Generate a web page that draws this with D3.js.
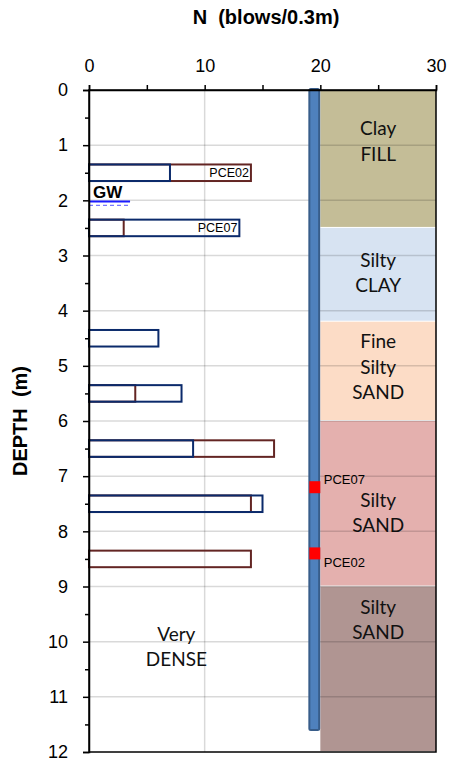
<!DOCTYPE html>
<html>
<head>
<meta charset="utf-8">
<script src="https://cdn.jsdelivr.net/npm/d3@7"></script>
<style>
  body { margin: 0; background: #fff; }
  text { font-family: Arial, "Liberation Sans", sans-serif; }
  .soil-label { font-family: Lato, "Open Sans", sans-serif; font-size: 19px; fill: #111; }
</style>
</head>
<body>
<div id="chart"></div>
<script>
// SPT values per test depth
var depths = [1.5, 2.5, 4.5, 5.5, 6.5, 7.5, 8.5];
var nBlue = [7, 13, 6, 8, 9, 15, null];
var nRed = [14, 3, null, 4, 16, 14, 14];

// bar tags
var barTags = [{depth: 1.5, value: 14, text: "PCE02"}, {depth: 2.5, value: 13, text: "PCE07"}];

// soil log
var soilTop = [0, 2.5, 4.2, 6, 9];
var soilBottom = [2.5, 4.2, 6, 9, 12];
var soilNames = [["Clay", "FILL"], ["Silty", "CLAY"], ["Fine", "Silty", "SAND"], ["Silty", "SAND"], ["Silty", "SAND"]];
var soilLabelDepth = [0.69, 3.08, 4.55, 7.43, 9.37];

// piezometer
var pipeBottom = 11.6;
var screens = [{depth: 7.2, text: "PCE07", labelDepth: 7.05}, {depth: 8.4, text: "PCE02", labelDepth: 8.55}];

var xTicks = [0, 10, 20, 30];
var yTicks = d3.range(0, 13);

var soilColors = ["#c4bd97", "#d7e3f2", "#fcdcc6", "#e4b0ae", "#b09592"];

var width = 449, height = 764;
var margin = {top: 90, right: 13, bottom: 12, left: 89};
var w = width - margin.left - margin.right;
var h = height - margin.top - margin.bottom;

var svg = d3.select("#chart").append("svg")
        .attr("width", width)
        .attr("height", height);

var x = d3.scaleLinear().domain([0, 30]).range([0, w]);
var y = d3.scaleLinear().domain([0, 12]).range([0, h]);

var g = svg.append("g")
        .attr("transform", "translate(" + margin.left + "," + margin.top + ")");

// soil column
var soil = g.selectAll(".soil")
        .data(soilTop)
        .enter().append("g");
soil.append("rect")
        .attr("x", x(20))
        .attr("y", function (d) { return y(d); })
        .attr("width", x(30) - x(20))
        .attr("height", function (d, i) { return y(soilBottom[i]) - y(d) - 1; })
        .attr("fill", function (d, i) { return soilColors[i]; });

// grid
g.selectAll(".hgrid")
        .data(yTicks.slice(1, -1))
        .enter().append("line")
        .attr("x1", 0).attr("x2", w)
        .attr("y1", function (d) { return y(d); })
        .attr("y2", function (d) { return y(d); })
        .attr("stroke", "rgba(0,0,0,0.15)")
        .attr("stroke-width", 1.5);
g.selectAll(".vgrid")
        .data([10])
        .enter().append("line")
        .attr("x1", function (d) { return x(d); })
        .attr("x2", function (d) { return x(d); })
        .attr("y1", 0).attr("y2", h)
        .attr("stroke", "rgba(0,0,0,0.15)")
        .attr("stroke-width", 1.5);

// soil labels
var lineGap = 25.5;
soil.each(function (d, i) {
    var names = soilNames[i];
    var t = d3.select(this).append("text")
            .attr("class", "soil-label")
            .attr("text-anchor", "middle");
    names.forEach(function (n, k) {
        t.append("tspan")
                .attr("x", x(25))
                .attr("y", y(soilLabelDepth[i]) + k * lineGap + 7)
                .text(n);
    });
});

// SPT bars (red under, blue over)
var barH = 0.3;
g.selectAll(".bar-red")
        .data(depths.filter(function (d, i) { return nRed[i] != null; }))
        .enter().append("rect")
        .attr("x", x(0))
        .attr("y", function (d) { return y(d - barH / 2); })
        .attr("width", function (d) { return x(nRed[depths.indexOf(d)]) - x(0); })
        .attr("height", y(barH) - y(0))
        .attr("fill", "none")
        .attr("stroke", "#632523")
        .attr("stroke-width", 2);
g.selectAll(".bar-blue")
        .data(depths.filter(function (d, i) { return nBlue[i] != null; }))
        .enter().append("rect")
        .attr("x", x(0))
        .attr("y", function (d) { return y(d - barH / 2); })
        .attr("width", function (d) { return x(nBlue[depths.indexOf(d)]) - x(0); })
        .attr("height", y(barH) - y(0))
        .attr("fill", "none")
        .attr("stroke", "#0b2a6b")
        .attr("stroke-width", 2);

g.selectAll(".bar-tag")
        .data(barTags)
        .enter().append("text")
        .attr("x", function (d) { return x(d.value) - 2; })
        .attr("y", function (d) { return y(d.depth) + 4.5; })
        .attr("text-anchor", "end")
        .style("font-size", "12.5px")
        .text(function (d) { return d.text; });

// ground water
g.append("text")
        .attr("x", x(0.35))
        .attr("y", y(1.96))
        .style("font-size", "17px")
        .style("font-weight", "bold")
        .text("GW");
g.append("line")
        .attr("x1", x(0)).attr("x2", x(3.55))
        .attr("y1", y(2.02)).attr("y2", y(2.02))
        .attr("stroke", "#1a1aff").attr("stroke-width", 2);
g.append("line")
        .attr("x1", x(0)).attr("x2", x(3.55))
        .attr("y1", y(2.09)).attr("y2", y(2.09))
        .attr("stroke", "#5555ff").attr("stroke-width", 1)
        .attr("stroke-dasharray", "4,3");

// Very DENSE
g.append("text")
        .attr("class", "soil-label")
        .attr("text-anchor", "middle")
        .selectAll("tspan")
        .data(["Very", "DENSE"])
        .enter().append("tspan")
        .attr("x", x(7.55))
        .attr("y", function (d, i) { return y(9.86) + i * lineGap + 7; })
        .text(function (d) { return d; });

// piezometer pipe
g.append("rect")
        .attr("x", x(19.05))
        .attr("y", y(0) - 1)
        .attr("width", x(19.9) - x(19.05))
        .attr("height", y(pipeBottom) - y(0) + 1)
        .attr("rx", 1.5)
        .attr("fill", "#4f81bd")
        .attr("stroke", "#385d8a")
        .attr("stroke-width", 2);

g.selectAll(".screen")
        .data(screens)
        .enter().append("rect")
        .attr("x", x(19.05))
        .attr("y", function (d) { return y(d.depth) - 6; })
        .attr("width", x(20) - x(19.05))
        .attr("height", 12)
        .attr("fill", "#ff0000");

g.selectAll(".screen-label")
        .data(screens)
        .enter().append("text")
        .attr("x", x(20.3))
        .attr("y", function (d) { return y(d.labelDepth) + 5; })
        .style("font-size", "13px")
        .text(function (d) { return d.text; });

// frame
g.append("rect")
        .attr("x", 0).attr("y", 0)
        .attr("width", w).attr("height", h)
        .attr("fill", "none")
        .attr("stroke", "#000")
        .attr("stroke-width", 1.5);

// axes
var xAxis = d3.axisTop(x)
        .tickValues(d3.range(0, 31, 5))
        .tickSize(5)
        .tickFormat(function (d) { return xTicks.indexOf(d) >= 0 ? d : ""; });
g.append("g")
        .attr("class", "axis axis--x")
        .call(xAxis)
        .call(function (s) {
            s.select(".domain").attr("stroke-width", 1.5);
            s.selectAll(".tick line").attr("stroke-width", 1.5);
            s.selectAll(".tick text").style("font-size", "18px").attr("y", -18).attr("fill", "#000");
        });

var yAxis = d3.axisLeft(y)
        .tickValues(d3.range(0, 12.01, 0.5))
        .tickSize(6)
        .tickFormat(function (d) { return yTicks.indexOf(d) >= 0 ? d : ""; });
g.append("g")
        .attr("class", "axis axis--y")
        .call(yAxis)
        .call(function (s) {
            s.select(".domain").attr("stroke-width", 1.5);
            s.selectAll(".tick line")
                    .attr("stroke-width", 1.5)
                    .attr("x2", function (d) { return Number.isInteger(d) ? -6 : -4; });
            s.selectAll(".tick text").style("font-size", "18px").attr("x", -21).attr("fill", "#000");
        });

// titles
svg.append("text")
        .attr("x", 266)
        .attr("y", 24)
        .attr("text-anchor", "middle")
        .style("font-size", "20px")
        .style("font-weight", "bold")
        .style("white-space", "pre")
        .text("N  (blows/0.3m)");

svg.append("text")
        .attr("transform", "translate(27," + (margin.top + h / 2) + ") rotate(-90)")
        .attr("text-anchor", "middle")
        .style("font-size", "20px")
        .style("font-weight", "bold")
        .style("white-space", "pre")
        .text("DEPTH  (m)");
</script>
</body>
</html>
